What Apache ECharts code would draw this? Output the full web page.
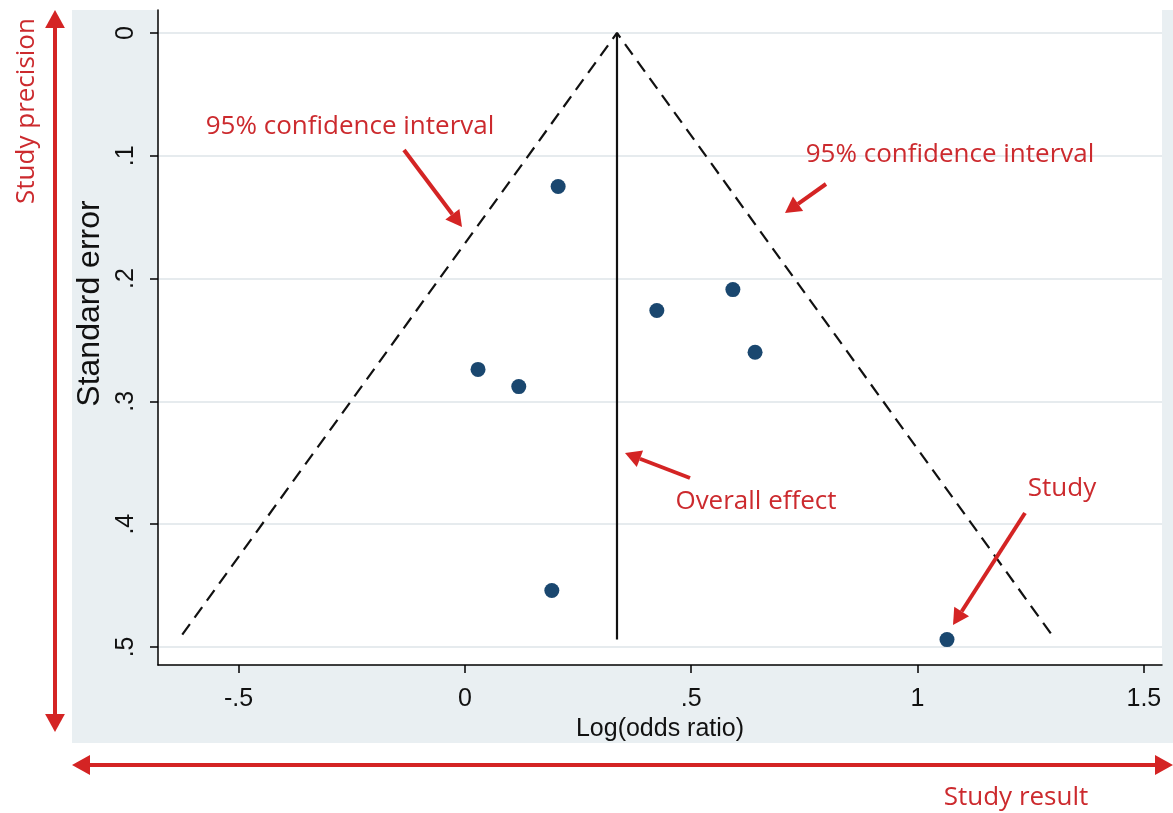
<!DOCTYPE html>
<html>
<head>
<meta charset="utf-8">
<script src="https://cdn.jsdelivr.net/npm/echarts@6/dist/echarts.min.js"></script>
<style>
  html, body { margin: 0; padding: 0; background: #fff; }
  #main { width: 1173px; height: 813px; }
</style>
</head>
<body>
<div id="main"></div>
<script>
// study estimates
const logOddsRatio = [0.206, 0.424, 0.592, 0.641, 0.029, 0.119, 0.192, 1.065];
const standardError = [0.125, 0.226, 0.209, 0.260, 0.274, 0.288, 0.454, 0.494];
const pooledEffect = 0.336;   // overall effect (vertical line)
const funnelSeMax = 0.49;     // bottom of the pseudo 95% CI funnel
const xTicks = [-0.5, 0, 0.5, 1, 1.5];
const yTicks = [0, 0.1, 0.2, 0.3, 0.4, 0.5];

const RED = '#d42424';
const TXT_RED = '#cc2a2e';

// stata style tick labels: .5 instead of 0.5
const stataFmt = v => String(+v.toFixed(2)).replace(/^(-?)0\./, '$1.');

const funnelLeft = [pooledEffect - 1.96 * funnelSeMax, funnelSeMax];
const funnelRight = [pooledEffect + 1.96 * funnelSeMax, funnelSeMax];

// red arrow (line + head) as graphic elements
function arrow(x1, y1, x2, y2, w, head) {
    const a = Math.atan2(y2 - y1, x2 - x1);
    const hl = head || 16, hw = hl * 0.55;
    const bx = x2 - hl * Math.cos(a), by = y2 - hl * Math.sin(a);
    const px = -Math.sin(a) * hw, py = Math.cos(a) * hw;
    return [
        { type: 'line', silent: true, z: 50,
          shape: { x1: x1, y1: y1, x2: bx, y2: by },
          style: { stroke: RED, lineWidth: w } },
        { type: 'polygon', silent: true, z: 50,
          shape: { points: [[x2, y2], [bx + px, by + py], [bx - px, by - py]] },
          style: { fill: RED } }
    ];
}

function label(text, x, y, rot) {
    return {
        type: 'text', silent: true, z: 60, x: x, y: y, rotation: rot || 0,
        style: {
            text: text, fill: TXT_RED, font: '26px "Open Sans"',
            align: 'center', verticalAlign: 'middle'
        }
    };
}

const graphics = [
    { type: 'rect', silent: true, z: -100,
      shape: { x: 72, y: 10, width: 1101, height: 733 },
      style: { fill: '#e9eff2' } },
    // study precision double arrow
    ...arrow(55, 400, 55, 10, 4, 18),
    ...arrow(55, 400, 55, 732, 4, 18),
    // study result double arrow
    ...arrow(620, 765, 72, 765, 4, 18),
    ...arrow(620, 765, 1173, 765, 4, 18),
    label('Study precision', 27, 111, Math.PI / 2),
    label('Study result', 1016, 798),
    label('95% confidence interval', 350, 127),
    ...arrow(404, 150, 462, 227, 4, 16),
    label('95% confidence interval', 950, 155),
    ...arrow(826, 184, 785, 213, 4, 16),
    label('Overall effect', 756, 502),
    ...arrow(690, 478, 625, 453, 4, 16),
    label('Study', 1062, 489),
    ...arrow(1025, 513, 953, 625, 4, 16)
];

const chart = echarts.init(document.getElementById('main'));
chart.setOption({
    animation: false,
    backgroundColor: '#fff',
    textStyle: { fontFamily: 'Liberation Sans' },
    grid: {
        left: 158, right: 11, top: 10, bottom: 148,
        show: true, backgroundColor: '#fff', borderWidth: 0
    },
    xAxis: {
        type: 'value',
        min: -0.678, max: 1.54,
        name: 'Log(odds ratio)',
        nameLocation: 'middle',
        nameGap: 50,
        nameTextStyle: { color: '#111', fontSize: 25 },
        axisLine: { show: true, onZero: false, lineStyle: { color: '#000', width: 1.5 } },
        axisTick: { show: true, length: 8, customValues: xTicks, lineStyle: { color: '#000', width: 1.5 } },
        axisLabel: { customValues: xTicks, formatter: stataFmt, color: '#111', fontSize: 25, margin: 22 },
        splitLine: { show: false }
    },
    yAxis: {
        type: 'value',
        inverse: true,
        min: -0.0187, max: 0.5147,
        name: 'Standard error',
        nameLocation: 'middle',
        nameGap: 37,
        nameTextStyle: { color: '#111', fontSize: 32, padding: [0, 0, 0, 68] },
        axisLine: { show: true, onZero: false, lineStyle: { color: '#000', width: 1.5 } },
        axisTick: { show: true, length: 8, customValues: yTicks, lineStyle: { color: '#000', width: 1.5 } },
        axisLabel: { customValues: yTicks, formatter: stataFmt, rotate: 90, color: '#111', fontSize: 25, margin: 19 },
        splitLine: { show: true, lineStyle: { color: '#e6ebee', width: 2 } }
    },
    series: [
        {
            name: 'Pseudo 95% CI',
            type: 'line',
            data: [funnelLeft, [pooledEffect, 0], funnelRight],
            symbol: 'none',
            lineStyle: { color: '#111', width: 2.2, type: [13, 8] },
            z: 3
        },
        {
            name: 'Overall effect',
            type: 'line',
            data: [[pooledEffect, 0], [pooledEffect, funnelSeMax + 0.004]],
            symbol: 'none',
            lineStyle: { color: '#111', width: 2.2 },
            z: 3
        },
        {
            name: 'Study',
            type: 'scatter',
            data: logOddsRatio.map((x, i) => [x, standardError[i]]),
            symbolSize: 15,
            itemStyle: { color: '#1a476f', opacity: 1 },
            z: 5
        }
    ],
    graphic: graphics
});
</script>
</body>
</html>
